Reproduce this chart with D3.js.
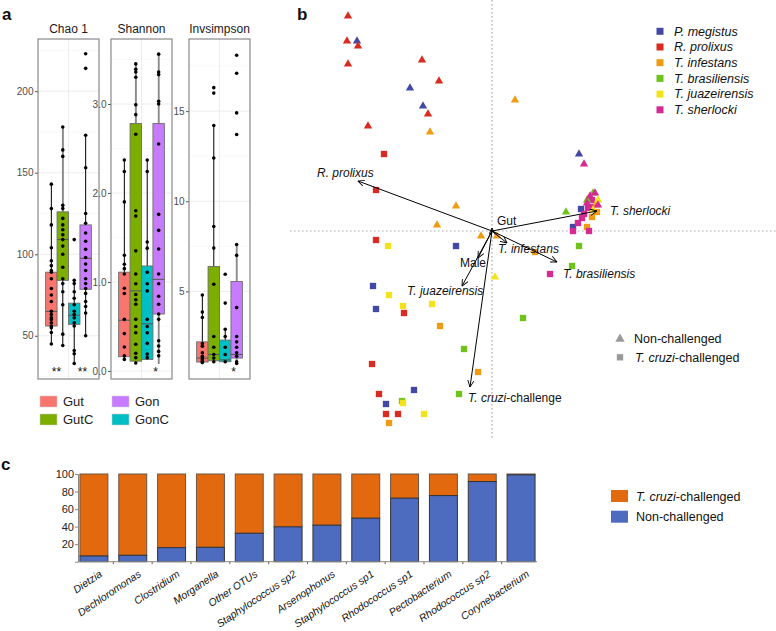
<!DOCTYPE html>
<html><head><meta charset="utf-8">
<script src="https://cdn.jsdelivr.net/npm/d3@7"></script>
<style>body{margin:0;background:#fff}svg{display:block;font-family:"Liberation Sans",Arial,Helvetica,sans-serif}</style>
</head><body><svg id="c" width="776" height="631"></svg>
<script>
// ---------- Panel a data ----------
const groups = ["Gut","GutC","GonC","Gon"];
const groupColors = ["#F8766D","#7CAE00","#00BFC4","#C77CFF"];
const legendOrder = ["Gut","GutC","Gon","GonC"];
const metrics = ["Chao 1","Shannon","Invsimpson"];
const metricTicks = [[50,100,150,200],[0,1,2,3],[5,10,15]];
const metricDomains = [[23.5,232],[-0.09,3.73],[0.14,19.0]];
const sigLabels = [["**","**"],["","*"],["","*"]];

// box stats [q1, median, q3] per group (Gut, GutC, GonC, Gon)
const chaoBox = [[56,65,89],[84,109,126],[57,62.6,70],[78.5,97.5,118]];
const chaoLine = [[45,143],[44,178],[33,84],[50,173]];
const chaoWhisk = [null,[126,178],null,null];
const chaoPts = [
 [143,128,118,104,96,93,90,89,85,79,75,71,65,63,61,60,58,56,55,52,45],
 [178,164,160,130,128,122,118,115,112,109,105,100,92,85,82,77,69,51,44],
 [109,84,82,77,73,69,65,63,61,58,56,41,39,33],
 [223,214,173,153,125,119,113,108,103,98,94,90,85,82,79,76,71,68,64,50]
];
const shanBox = [[0.16,0.57,1.11],[0.11,0.9,2.78],[0.13,0.53,1.18],[0.64,1.03,2.78]];
const shanLine = [[0.13,2.37],[0.09,3.45],[0.13,2.37],[0.08,3.56]];
const shanWhisk = [null,[2.78,3.45],null,[0.08,3.56]];
const shanPts = [
 [2.37,2.24,1.90,1.30,1.20,1.15,1.09,0.93,0.87,0.58,0.42,0.27,0.17,0.13],
 [3.45,3.39,3.36,3.30,2.99,2.88,2.66,1.80,1.74,1.35,1.09,0.98,0.86,0.80,0.75,0.58,0.50,0.43,0.30,0.20,0.15,0.09],
 [2.37,2.24,1.45,1.38,1.11,0.98,0.90,0.58,0.50,0.43,0.31,0.19,0.15],
 [3.56,3.36,3.33,3.03,3.00,2.55,1.76,1.58,1.37,1.09,0.98,0.84,0.75,0.64,0.58,0.34,0.28,0.22,0.17]
];
const invBox = [[1.08,1.3,2.2],[1.15,1.5,6.38],[1.1,1.2,2.3],[1.3,1.5,5.55]];
const invLine = [[1.05,4.8],[1.1,14.2],[1.1,2.9],[1.0,7.6]];
const invWhisk = [null,null,null,[1.0,7.6]];
const invPts = [
 [4.8,3.85,3.55,2.1,1.96,1.6,1.4,1.3,1.2,1.1,1.05],
 [16.3,16.0,14.2,12.4,8.6,7.4,5.4,2.5,1.9,1.5,1.3,1.1],
 [5.95,4.35,2.9,2.5,1.9,1.5,1.1],
 [18.1,17.1,14.9,13.7,7.6,7.0,4.1,2.5,2.2,1.9,1.6,1.4,1.1,1.0]
];

// ---------- Panel b data ----------
const species = ["P. megistus","R. prolixus","T. infestans","T. brasiliensis","T. juazeirensis","T. sherlocki"];
const speciesColors = ["#4348A6","#D92B21","#F09B14","#6FC41C","#F2E31B","#D42A92"];
// Non-challenged (triangles): [species index, axis1, axis2]
const nonChallenged = [
 [0,-1.35,1.90],[0,-0.82,1.43],[0,-0.69,1.25],[0,0.87,0.77],
 [1,-1.44,2.15],[1,-1.45,1.90],[1,-1.34,1.85],[1,-1.44,1.67],[1,-0.70,1.71],[1,-0.53,1.50],[1,-0.64,1.17],[1,-1.24,1.05],
 [2,-0.62,0.99],[2,0.23,1.31],[2,-0.36,0.25],[2,-0.55,0.06],[2,-0.11,-0.05],[2,0.05,-0.05],[2,1.04,0.26],
 [3,0.74,0.19],[3,1.01,0.38],[3,0.95,0.31],
 [4,0.03,-0.46],[4,1.06,0.31],[4,1.01,0.21],
 [5,0.92,0.67],[5,1.03,0.38],[5,0.95,0.28],[5,1.06,0.26],[5,0.98,0.35]
];
// T. cruzi-challenged (squares)
const challenged = [
 [0,-0.36,-0.15],[0,-1.19,-0.55],[0,-1.16,-0.78],[0,-0.78,-1.59],[0,-1.06,-1.73],[0,0.89,0.22],[0,0.81,0.04],
 [1,-1.08,0.77],[1,-1.16,0.41],[1,-1.16,-0.09],[1,-0.88,-0.82],[1,-1.20,-1.33],[1,-1.13,-1.63],[1,-1.06,-1.83],[1,-0.94,-1.83],
 [2,0.43,-0.21],[2,-0.52,-0.95],[2,-0.14,-1.41],[2,-1.03,-1.92],[2,1.00,0.14],[2,0.95,0.04],[2,1.05,0.19],
 [3,0.31,-0.87],[3,-0.28,-1.18],[3,-0.33,-1.63],[3,0.87,-0.15],[3,0.80,-0.35],[3,-0.90,-1.70],
 [4,-1.04,-0.15],[4,-1.03,-0.64],[4,-0.89,-0.75],[4,-0.60,-0.73],[4,-0.89,-1.72],[4,-0.68,-1.83],
 [5,0.58,-0.43],[5,1.00,0.31],[5,0.96,0.23],[5,0.99,0.24],[5,0.90,0.13],[5,0.86,0.08],[5,0.81,0.00],[5,0.97,0.00],[5,0.92,0.17]
];
// Biplot arrows: [name, tipX, tipY, labelX, labelY]
const arrowNames = ["R. prolixus","Gut","T. sherlocki","T. infestans","T. brasiliensis","Male","T. juazeirensis","T. cruzi-challenge"];
const arrowTips = [[-1.34,0.50],[0,0.03],[1.05,0.20],[0.15,-0.12],[0.65,-0.31],[-0.14,-0.27],[-0.30,-0.55],[-0.22,-1.56]];
const arrowLabelPos = [[-1.75,0.54],[0.05,0.06],[1.18,0.16],[0.06,-0.22],[0.71,-0.47],[-0.32,-0.36],[-0.85,-0.64],[-0.24,-1.71]];

// ---------- Panel c data ----------
const taxa = ["Dietzia","Dechloromonas","Clostridium","Morganella","Other OTUs","Staphylococcus sp2","Arsenophonus","Staphylococcus sp1","Rhodococcus sp1","Pectobacterium","Rhodococcus sp2","Corynebacterium"];
const nonChallengedPct = [6.5,7.3,16,16.4,32.4,39.7,41.6,49.6,72.4,75.4,91.4,99];
const pctTicks = [20,40,60,80,100];

const svg = d3.select("#c");
svg.append("rect").attr("width",776).attr("height",631).attr("fill","#fff");

// panel letters
[["a",2,20],["b",297,20],["c",1,470]].forEach(([t,x,y])=>svg.append("text").attr("x",x).attr("y",y).attr("font-size",17).attr("font-weight","bold").attr("fill","#111").text(t));

// ---------- Panel a ----------
const boxData = [chaoBox,shanBox,invBox], lineData=[chaoLine,shanLine,invLine], whiskData=[chaoWhisk,shanWhisk,invWhisk], ptData=[chaoPts,shanPts,invPts];
const panelLefts = [38,111,189], pw = 61, ptop = 39, pbot = 379;
metrics.forEach((m,mi)=>{
  const L = panelLefts[mi];
  const g = svg.append("g");
  const y = d3.scaleLinear().domain(metricDomains[mi]).range([pbot,ptop]);
  const x = d3.scaleBand().domain(groups).range([L+pw*(0.15/1.2), L+pw*(1.05/1.2)]).padding(0);
  const bw = x.bandwidth();
  // grid
  const minor = [];
  const t = metricTicks[mi], step = t[1]-t[0];
  for(let v=t[0]-step/2; v<=metricDomains[mi][1]; v+=step) if(v>=metricDomains[mi][0]) minor.push(v);
  g.selectAll(null).data(minor).join("line").attr("x1",L).attr("x2",L+pw).attr("y1",d=>y(d)).attr("y2",d=>y(d)).attr("stroke","#f3f3f3").attr("stroke-width",0.6);
  g.selectAll(null).data(t).join("line").attr("x1",L).attr("x2",L+pw).attr("y1",d=>y(d)).attr("y2",d=>y(d)).attr("stroke","#ebebeb").attr("stroke-width",0.9);
  g.append("line").attr("x1",L+pw/2).attr("x2",L+pw/2).attr("y1",ptop).attr("y2",pbot).attr("stroke","#ebebeb").attr("stroke-width",0.9);
  // axis
  const ax = g.append("g").attr("transform",`translate(${L},0)`).call(d3.axisLeft(y).tickValues(t).tickSize(3).tickPadding(1.5));
  ax.select(".domain").remove();
  ax.selectAll("line").attr("stroke","#555");
  ax.selectAll("text").attr("fill","#4d4d4d").attr("font-size",10).attr("font-family","inherit");
  // boxes
  groups.forEach((gr,gi)=>{
    const cx = x(gr)+bw/2;
    const [q1,med,q3] = boxData[mi][gi];
    const ln = lineData[mi][gi];
    g.append("line").attr("x1",cx).attr("x2",cx).attr("y1",y(ln[0])).attr("y2",y(ln[1])).attr("stroke","#000").attr("stroke-width",1);
    const w = whiskData[mi][gi];
    if(w) g.append("line").attr("x1",cx).attr("x2",cx).attr("y1",y(w[0])).attr("y2",y(w[1])).attr("stroke","#8a8a8a").attr("stroke-width",1.7);
    g.append("rect").attr("x",x(gr)).attr("width",bw).attr("y",y(q3)).attr("height",y(q1)-y(q3)).attr("fill",groupColors[gi]).attr("stroke","#6e6e6e").attr("stroke-width",0.9);
    g.append("line").attr("x1",x(gr)).attr("x2",x(gr)+bw).attr("y1",y(med)).attr("y2",y(med)).attr("stroke","#555").attr("stroke-width",1);
    g.selectAll(null).data(ptData[mi][gi]).join("circle").attr("cx",cx).attr("cy",d=>y(d)).attr("r",1.8).attr("fill","#000");
  });
  // significance
  sigLabels[mi].forEach((s,si)=>{
    if(!s) return;
    g.append("text").attr("x",L+pw/2+(si===0?-12:14)).attr("y",376).attr("text-anchor","middle").attr("font-size",12).attr("fill","#111").text(s);
  });
  // frame
  g.append("rect").attr("x",L).attr("y",ptop).attr("width",pw).attr("height",pbot-ptop).attr("fill","none").attr("stroke","#7f7f7f").attr("stroke-width",1.1);
  g.append("text").attr("x",L+pw/2).attr("y",33).attr("text-anchor","middle").attr("font-size",12).attr("fill","#1a1a1a").text(m);
});
// legend a
legendOrder.forEach((gr,i)=>{
  const col = Math.floor(i/2), row = i%2;
  const lx = 40 + col*72, ly = 396 + row*18;
  svg.append("rect").attr("x",lx).attr("y",ly).attr("width",17).attr("height",11).attr("fill",groupColors[groups.indexOf(gr)]).attr("stroke","#ccc").attr("stroke-width",0.5);
  svg.append("text").attr("x",lx+23).attr("y",ly+10).attr("font-size",13).attr("fill","#222").text(gr);
});

// ---------- Panel b ----------
const xB = d3.scaleLinear().domain([-2,2.84]).range([292,776]);
const yB = d3.scaleLinear().domain([-2.09,2.31]).range([440,0]);
const gb = svg.append("g");
gb.append("line").attr("x1",xB(0)).attr("x2",xB(0)).attr("y1",0).attr("y2",yB(-2.09)).attr("stroke","#a8a8a8").attr("stroke-width",1.2).attr("stroke-dasharray","1.5,2.5");
gb.append("line").attr("x1",290).attr("x2",776).attr("y1",yB(0)).attr("y2",yB(0)).attr("stroke","#a8a8a8").attr("stroke-width",1.2).attr("stroke-dasharray","1.5,2.5");
const tri = d3.symbol(d3.symbolTriangle).size(30)();
const sq = d3.symbol(d3.symbolSquare).size(40)();
gb.selectAll(null).data(challenged).join("path").attr("d",sq).attr("transform",d=>`translate(${xB(d[1])},${yB(d[2])})`).attr("fill",d=>speciesColors[d[0]]);
gb.selectAll(null).data(nonChallenged).join("path").attr("d",tri).attr("transform",d=>`translate(${xB(d[1])},${yB(d[2])})`).attr("fill",d=>speciesColors[d[0]]);
// arrows
const defs = svg.append("defs");
defs.append("marker").attr("id","ah").attr("viewBox","0 0 10 10").attr("refX",9.5).attr("refY",5).attr("markerWidth",7).attr("markerHeight",7).attr("markerUnits","userSpaceOnUse").attr("orient","auto")
  .append("path").attr("d","M0,0.5 L9.5,5 L0,9.5").attr("fill","none").attr("stroke","#000").attr("stroke-width",1.3);
arrowNames.forEach((n,i)=>{
  gb.append("line").attr("x1",xB(0)).attr("y1",yB(0)).attr("x2",xB(arrowTips[i][0])).attr("y2",yB(arrowTips[i][1])).attr("stroke","#000").attr("stroke-width",1).attr("marker-end","url(#ah)");
  const t = gb.append("text").attr("x",xB(arrowLabelPos[i][0])).attr("y",yB(arrowLabelPos[i][1])).attr("font-size",12).attr("fill","#111");
  if(n==="Gut"||n==="Male") t.text(n);
  else if(n==="T. cruzi-challenge"){ t.append("tspan").attr("font-style","italic").text("T. cruzi"); t.append("tspan").text("-challenge"); }
  else t.attr("font-style","italic").text(n);
});
// legend b species
species.forEach((s,i)=>{
  const ly = 31.3 + i*15.7;
  svg.append("rect").attr("x",656.5).attr("y",ly-3.5).attr("width",7).attr("height",7).attr("fill",speciesColors[i]);
  svg.append("text").attr("x",674).attr("y",ly+4.3).attr("font-size",12.5).attr("font-style","italic").attr("fill","#111").text(s);
});
// legend b shapes
svg.append("path").attr("d",d3.symbol(d3.symbolTriangle).size(38)()).attr("transform","translate(620,339)").attr("fill","#9a9a9a");
svg.append("path").attr("d",d3.symbol(d3.symbolSquare).size(40)()).attr("transform","translate(620,357.3)").attr("fill","#9a9a9a");
svg.append("text").attr("x",634).attr("y",343).attr("font-size",12.5).attr("fill","#111").text("Non-challenged");
const lt = svg.append("text").attr("x",635).attr("y",362).attr("font-size",12.5).attr("fill","#111");
lt.append("tspan").attr("font-style","italic").text("T. cruzi");
lt.append("tspan").text("-challenged");

// ---------- Panel c ----------
const xC = d3.scaleBand().domain(taxa).range([78,537]).paddingInner(0.28).paddingOuter(0.05);
const yC = d3.scaleLinear().domain([0,100]).range([561.7,474]);
const gc = svg.append("g");
const orangeC = "#E2690E", blueC = "#4E6CBF";
gc.selectAll(null).data(taxa).join("rect").attr("x",d=>xC(d)).attr("width",xC.bandwidth()).attr("y",yC(100)).attr("height",(d,i)=>yC(nonChallengedPct[i])-yC(100)).attr("fill",orangeC).attr("stroke","#6a5646").attr("stroke-width",1);
gc.selectAll(null).data(taxa).join("rect").attr("x",d=>xC(d)).attr("width",xC.bandwidth()).attr("y",(d,i)=>yC(nonChallengedPct[i])).attr("height",(d,i)=>yC(0)-yC(nonChallengedPct[i])).attr("fill",blueC).attr("stroke","#333").attr("stroke-width",1);
const yAx = gc.append("g").attr("transform","translate(78,0)").call(d3.axisLeft(yC).tickValues(pctTicks).tickSize(3).tickPadding(1));
yAx.select(".domain").attr("stroke","#888");
yAx.selectAll("line").attr("stroke","#888");
yAx.selectAll("text").attr("font-size",11).attr("fill","#222").attr("font-family","inherit");
gc.append("line").attr("x1",78).attr("x2",537).attr("y1",yC(0)).attr("y2",yC(0)).attr("stroke","#888").attr("stroke-width",1);
// small x ticks between bars
gc.selectAll(null).data(taxa.slice(1)).join("line").attr("x1",d=>xC(d)-xC.step()*0.14).attr("x2",d=>xC(d)-xC.step()*0.14).attr("y1",yC(0)).attr("y2",yC(0)+2.5).attr("stroke","#666");
gc.selectAll(null).data(taxa).join("text").attr("text-anchor","end").attr("font-size",10.5).attr("font-style","italic").attr("fill","#111")
  .attr("transform",d=>`translate(${xC(d)+xC.bandwidth()/2+9},${yC(0)+14}) rotate(-34)`).text(d=>d);
// legend c
svg.append("rect").attr("x",611).attr("y",490).attr("width",17).attr("height",12).attr("fill",orangeC);
svg.append("rect").attr("x",611).attr("y",510.7).attr("width",17).attr("height",12).attr("fill",blueC);
const lc = svg.append("text").attr("x",636).attr("y",500.5).attr("font-size",12.5).attr("fill","#111");
lc.append("tspan").attr("font-style","italic").text("T. cruzi");
lc.append("tspan").text("-challenged");
svg.append("text").attr("x",636).attr("y",521).attr("font-size",12.5).attr("fill","#111").text("Non-challenged");
</script></body></html>
